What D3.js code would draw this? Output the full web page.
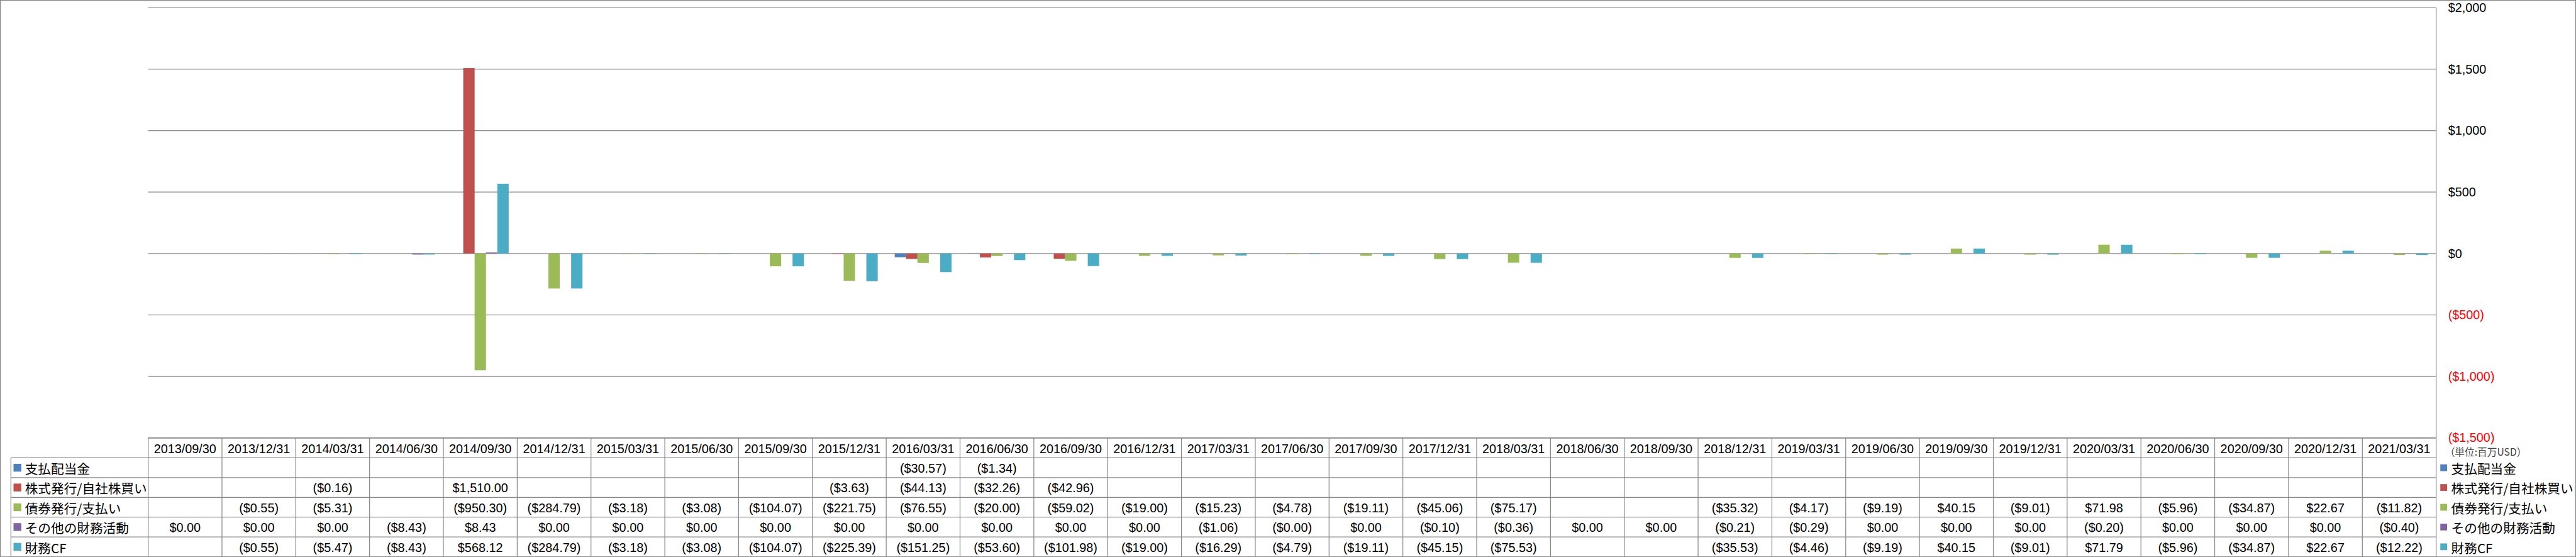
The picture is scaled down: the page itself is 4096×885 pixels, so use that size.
<!DOCTYPE html>
<html>
<head>
<meta charset="utf-8">
<script src="https://cdn.jsdelivr.net/npm/d3@7/dist/d3.min.js"></script>
<style>
  html, body { margin: 0; padding: 0; background: #fff; }
  svg { display: block; }
</style>
</head>
<body>
<svg id="chart" width="4096" height="885"></svg>
<script>
// ---------------- DATA ----------------
const categories = ["2013/09/30","2013/12/31","2014/03/31","2014/06/30","2014/09/30","2014/12/31",
  "2015/03/31","2015/06/30","2015/09/30","2015/12/31","2016/03/31","2016/06/30","2016/09/30",
  "2016/12/31","2017/03/31","2017/06/30","2017/09/30","2017/12/31","2018/03/31","2018/06/30",
  "2018/09/30","2018/12/31","2019/03/31","2019/06/30","2019/09/30","2019/12/31","2020/03/31",
  "2020/06/30","2020/09/30","2020/12/31","2021/03/31"];

const seriesNames = ["支払配当金","株式発行/自社株買い","債券発行/支払い","その他の財務活動","財務CF"];
const seriesColors = ["#4F81BD","#C0504D","#9BBB59","#8064A2","#4BACC6"];

const dividendsPaid = [null,null,null,null,null,null,null,null,null,null,-30.57,-1.34,null,null,null,null,
  null,null,null,null,null,null,null,null,null,null,null,null,null,null,null];
const stockIssuance = [null,null,-0.16,null,1510.00,null,null,null,null,-3.63,-44.13,-32.26,-42.96,null,null,null,
  null,null,null,null,null,null,null,null,null,null,null,null,null,null,null];
const debtIssuance = [null,-0.55,-5.31,null,-950.30,-284.79,-3.18,-3.08,-104.07,-221.75,-76.55,-20.00,-59.02,
  -19.00,-15.23,-4.78,-19.11,-45.06,-75.17,null,null,-35.32,-4.17,-9.19,40.15,-9.01,71.98,-5.96,-34.87,22.67,-11.82];
const otherFinancing = [0,0,0,-8.43,8.43,0,0,0,0,0,0,0,0,0,-1.06,-0.004,0,-0.10,-0.36,0,0,-0.21,-0.29,0,0,0,
  -0.20,0,0,0,-0.40];
const financingCF = [null,-0.55,-5.47,-8.43,568.12,-284.79,-3.18,-3.08,-104.07,-225.39,-151.25,-53.60,-101.98,
  -19.00,-16.29,-4.79,-19.11,-45.15,-75.53,null,null,-35.53,-4.46,-9.19,40.15,-9.01,71.79,-5.96,-34.87,22.67,-12.22];

const tickValues = [-1500,-1000,-500,0,500,1000,1500,2000];
const unitLabel = "（単位:百万USD）";

const seriesValues = [dividendsPaid, stockIssuance, debtIssuance, otherFinancing, financingCF];

// ---------------- LAYOUT (reference pixel units, scaled to window) ----------------
const S = 4096 / 4955;
const W = 4955, H = 1071;
const plotLeft = 285, plotRight = 4686, plotTop = 15, plotBottom = 841.5;
const tableTop = 842, rowH = 38, labelLeft = 21;
const gridColor = "#898989";
const numFont = "'Liberation Sans', Arial, sans-serif";
const cjkFont = "'Noto Sans CJK JP', 'Noto Sans', sans-serif";

const svg = d3.select("#chart");
const g = svg.append("g").attr("transform", `scale(${S})`);

// outer border
g.append("rect").attr("x", 0.75).attr("y", 0.75).attr("width", W - 1.5).attr("height", H - 1.5)
  .attr("fill", "none").attr("stroke", gridColor).attr("stroke-width", 1.5);

const x = d3.scaleBand().domain(categories).range([plotLeft, plotRight]).paddingInner(0).paddingOuter(0);
const xs = d3.scaleBand().domain(d3.range(seriesNames.length)).range([0, x.bandwidth()])
  .paddingInner(0).paddingOuter(0.75);
const y = d3.scaleLinear().domain([-1500, 2000]).range([plotBottom, plotTop]);

const fmtNum = d3.format(",.2f");
const fmtVal = v => v < 0 ? `($${fmtNum(-v)})` : `$${fmtNum(v)}`;
const fmtTick = v => v < 0 ? `($${d3.format(",")(-v)})` : `$${d3.format(",")(v)}`;

// gridlines
g.append("g").selectAll("line").data(tickValues).join("line")
  .attr("x1", plotLeft).attr("x2", plotRight)
  .attr("y1", d => y(d)).attr("y2", d => y(d))
  .attr("stroke", gridColor).attr("stroke-width", 1.5);

// bars
seriesValues.forEach((vals, si) => {
  g.append("g").selectAll("rect")
    .data(vals.map((v, i) => ({ v, c: categories[i] })).filter(d => d.v !== null && d.v !== 0))
    .join("rect")
    .attr("x", d => x(d.c) + xs(si))
    .attr("width", xs.bandwidth())
    .attr("y", d => Math.min(y(d.v), y(0)))
    .attr("height", d => Math.abs(y(d.v) - y(0)))
    .attr("fill", seriesColors[si]);
});

// right value axis
const axis = d3.axisRight(y).tickValues(tickValues).tickSize(0).tickPadding(23).tickFormat(fmtTick);
const axG = g.append("g").attr("transform", `translate(${plotRight},0)`).call(axis);
axG.select(".domain").remove();
axG.selectAll("text")
  .attr("font-family", numFont).attr("font-size", 24)
  .attr("fill", d => d < 0 ? "#FF0000" : "#000");
g.append("line").attr("x1", plotRight).attr("x2", plotRight).attr("y1", plotTop).attr("y2", H - 1)
  .attr("stroke", gridColor).attr("stroke-width", 1.5);

// unit label
g.append("text").attr("x", 4703).attr("y", 868).attr("dominant-baseline", "central")
  .attr("font-family", cjkFont).attr("font-size", 19).attr("fill", "#404040").text(unitLabel);

// ---------------- DATA TABLE ----------------
const tg = g.append("g");
// horizontal lines
tg.append("line").attr("x1", plotLeft).attr("x2", plotRight).attr("y1", tableTop).attr("y2", tableTop)
  .attr("stroke", gridColor).attr("stroke-width", 1.5);
d3.range(1, seriesNames.length + 2).forEach(r => {
  tg.append("line").attr("x1", labelLeft).attr("x2", plotRight)
    .attr("y1", tableTop + r * rowH).attr("y2", tableTop + r * rowH)
    .attr("stroke", gridColor).attr("stroke-width", 1.5);
});
// vertical lines
tg.append("line").attr("x1", labelLeft).attr("x2", labelLeft)
  .attr("y1", tableTop + rowH).attr("y2", tableTop + rowH * (seriesNames.length + 1))
  .attr("stroke", gridColor).attr("stroke-width", 1.5);
tg.selectAll("line.col").data(categories).join("line").attr("class", "col")
  .attr("x1", d => x(d)).attr("x2", d => x(d))
  .attr("y1", tableTop).attr("y2", tableTop + rowH * (seriesNames.length + 1))
  .attr("stroke", gridColor).attr("stroke-width", 1.5);

// header labels
tg.selectAll("text.hdr").data(categories).join("text").attr("class", "hdr")
  .attr("x", d => x(d) + x.bandwidth() / 2).attr("y", tableTop + rowH / 2 + 1)
  .attr("text-anchor", "middle").attr("dominant-baseline", "central")
  .attr("font-family", numFont).attr("font-size", 24).attr("fill", "#000").text(d => d);

// row labels with keys + cells
seriesNames.forEach((name, si) => {
  const cy = tableTop + rowH * (si + 1) + rowH / 2;
  tg.append("rect").attr("x", 26).attr("y", cy - 7.5).attr("width", 15).attr("height", 15)
    .attr("fill", seriesColors[si]);
  tg.append("text").attr("x", 48).attr("y", cy + 1).attr("dominant-baseline", "central")
    .attr("font-family", cjkFont).attr("font-size", 25).attr("fill", "#000").text(name);
  tg.append("g").selectAll("text")
    .data(seriesValues[si].map((v, i) => ({ v, c: categories[i] })).filter(d => d.v !== null))
    .join("text")
    .attr("x", d => x(d.c) + x.bandwidth() / 2).attr("y", cy + 1)
    .attr("text-anchor", "middle").attr("dominant-baseline", "central")
    .attr("font-family", numFont).attr("font-size", 24).attr("fill", "#000")
    .text(d => fmtVal(d.v));

  // right legend
  g.append("rect").attr("x", 4694).attr("y", cy - 6.5).attr("width", 13).attr("height", 13)
    .attr("fill", seriesColors[si]);
  g.append("text").attr("x", 4715).attr("y", cy + 1).attr("dominant-baseline", "central")
    .attr("font-family", cjkFont).attr("font-size", 25).attr("fill", "#000").text(name);
});
</script>
</body>
</html>
